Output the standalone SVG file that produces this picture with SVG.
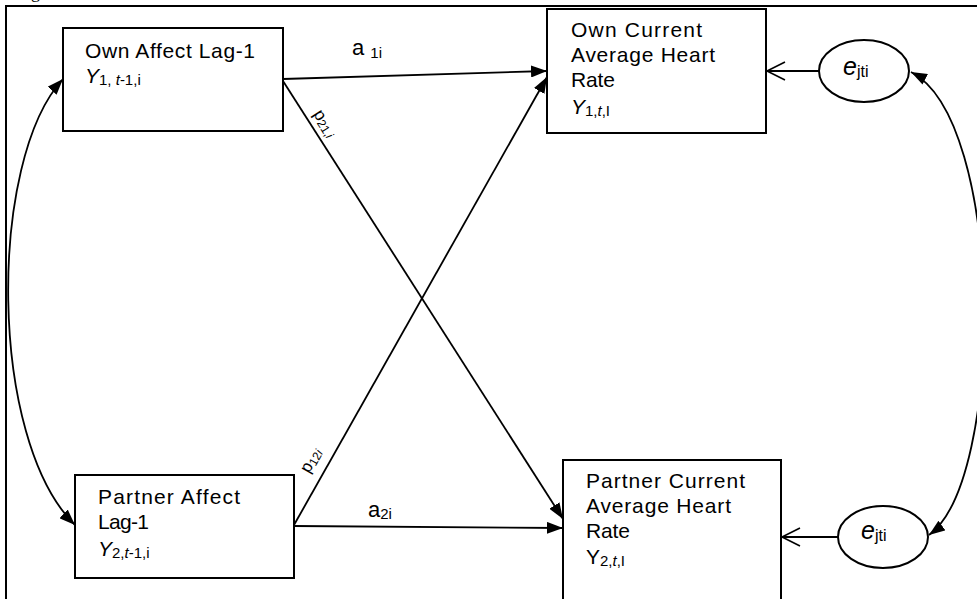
<svg xmlns="http://www.w3.org/2000/svg" width="977" height="599" viewBox="0 0 977 599">
  <style>
    .box { fill: #fff; stroke: #000; stroke-width: 2; }
    .ell { fill: #fff; stroke: #000; stroke-width: 2; }
    .t { font-family: "Liberation Sans", Arial, sans-serif; font-size: 21px; fill: #000; }
    .sub { font-size: 15px; }
    .it { font-style: italic; }
    .edge { fill: none; stroke: #000; stroke-width: 1.8; }
    .frame { fill: none; stroke: #000; stroke-width: 2; }
    .cap { font-family: "Liberation Serif", "Times New Roman", serif; font-size: 18px; fill: #000; }
  </style>
  <defs>
    <marker id="tri" viewBox="0 0 16 12" refX="16" refY="6" markerWidth="16" markerHeight="12" markerUnits="userSpaceOnUse" orient="auto-start-reverse">
      <path d="M0,0 L16,6 L0,12 Z" fill="#000"/>
    </marker>
    <marker id="open" viewBox="0 0 22 22" refX="20" refY="11" markerWidth="22" markerHeight="22" markerUnits="userSpaceOnUse" orient="auto">
      <path d="M2,2 L20,11 L2,20" fill="none" stroke="#000" stroke-width="1.6"/>
    </marker>
  </defs>

  <rect width="977" height="599" fill="#fff"/>

  <!-- caption line above the frame -->
  <text class="cap" x="16" y="-2">Figure</text>

  <!-- outer frame -->
  <rect class="frame" x="6" y="6" width="990" height="610"/>

  <!-- connectors -->
  <g id="connectors">
    <line class="edge" x1="283" y1="79" x2="547" y2="71" marker-end="url(#tri)"/>
    <line class="edge" x1="283" y1="81" x2="563" y2="519" marker-end="url(#tri)"/>
    <line class="edge" x1="294" y1="525" x2="547" y2="77" marker-end="url(#tri)"/>
    <line class="edge" x1="294" y1="526" x2="563" y2="528" marker-end="url(#tri)"/>
    <line class="edge" x1="819" y1="71" x2="767" y2="71" marker-end="url(#open)"/>
    <line class="edge" x1="838" y1="537" x2="782" y2="537" marker-end="url(#open)"/>
    <path class="edge" d="M63,79 C-12,160 -12,440 75,525" marker-start="url(#tri)" marker-end="url(#tri)"/>
    <path class="edge" d="M911,72 C1005,120 1005,480 929,535" marker-start="url(#tri)" marker-end="url(#tri)"/>

    <!-- path labels -->
    <text class="t" x="352" y="55" style="font-size:22px">a <tspan class="sub" dy="3">1i</tspan></text>
    <text class="t" x="368" y="517" style="font-size:22px">a<tspan class="sub" dy="2">2i</tspan></text>
    <text class="t" transform="translate(313,114) rotate(57.4)" style="font-size:17px">p<tspan style="font-size:12px" dy="2">21,<tspan class="it">i</tspan></tspan></text>
    <text class="t" transform="translate(309,474) rotate(-60.6)" style="font-size:17px">p<tspan style="font-size:12px" dy="2">12<tspan class="it">i</tspan></tspan></text>
  </g>

  <g id="own-affect">
    <rect class="box" x="63" y="28" width="220" height="103"/>
    <text class="t" x="85" y="58" textLength="170" lengthAdjust="spacing">Own Affect Lag-1</text>
    <text class="t" x="85" y="83"><tspan class="it">Y</tspan><tspan class="sub" dy="2">1, <tspan class="it">t</tspan>-1,i</tspan></text>
  </g>

  <g id="own-current">
    <rect class="box" x="547" y="9" width="219" height="124"/>
    <text class="t" x="571" y="37" textLength="131" lengthAdjust="spacing">Own Current</text>
    <text class="t" x="571" y="62" textLength="144" lengthAdjust="spacing">Average Heart</text>
    <text class="t" x="571" y="87" textLength="44" lengthAdjust="spacing">Rate</text>
    <text class="t" x="571" y="114"><tspan class="it">Y</tspan><tspan class="sub" dy="2">1,<tspan class="it">t</tspan>,I</tspan></text>
  </g>

  <g id="partner-affect">
    <rect class="box" x="75" y="475" width="219" height="103"/>
    <text class="t" x="98" y="504" textLength="142" lengthAdjust="spacing">Partner Affect</text>
    <text class="t" x="98" y="529" textLength="51" lengthAdjust="spacing">Lag-1</text>
    <text class="t" x="98" y="556"><tspan class="it">Y</tspan><tspan class="sub" dy="2">2,<tspan class="it">t</tspan>-1,i</tspan></text>
  </g>

  <g id="partner-current">
    <rect class="box" x="563" y="460" width="218" height="150"/>
    <text class="t" x="586" y="488" textLength="159" lengthAdjust="spacing">Partner Current</text>
    <text class="t" x="586" y="513" textLength="145" lengthAdjust="spacing">Average Heart</text>
    <text class="t" x="586" y="538" textLength="44" lengthAdjust="spacing">Rate</text>
    <text class="t" x="586" y="564">Y<tspan class="sub" dy="2">2,<tspan class="it">t</tspan>,I</tspan></text>
  </g>

  <g id="error-own">
    <ellipse class="ell" cx="864" cy="71" rx="45" ry="31"/>
    <text class="t" x="843" y="75" style="font-size:25px"><tspan class="it">e</tspan><tspan style="font-size:16px" dy="2">jti</tspan></text>
  </g>

  <g id="error-partner">
    <ellipse class="ell" cx="883" cy="537" rx="45" ry="31"/>
    <text class="t" x="861" y="539" style="font-size:25px"><tspan class="it">e</tspan><tspan style="font-size:16px" dy="2">jti</tspan></text>
  </g>
</svg>
